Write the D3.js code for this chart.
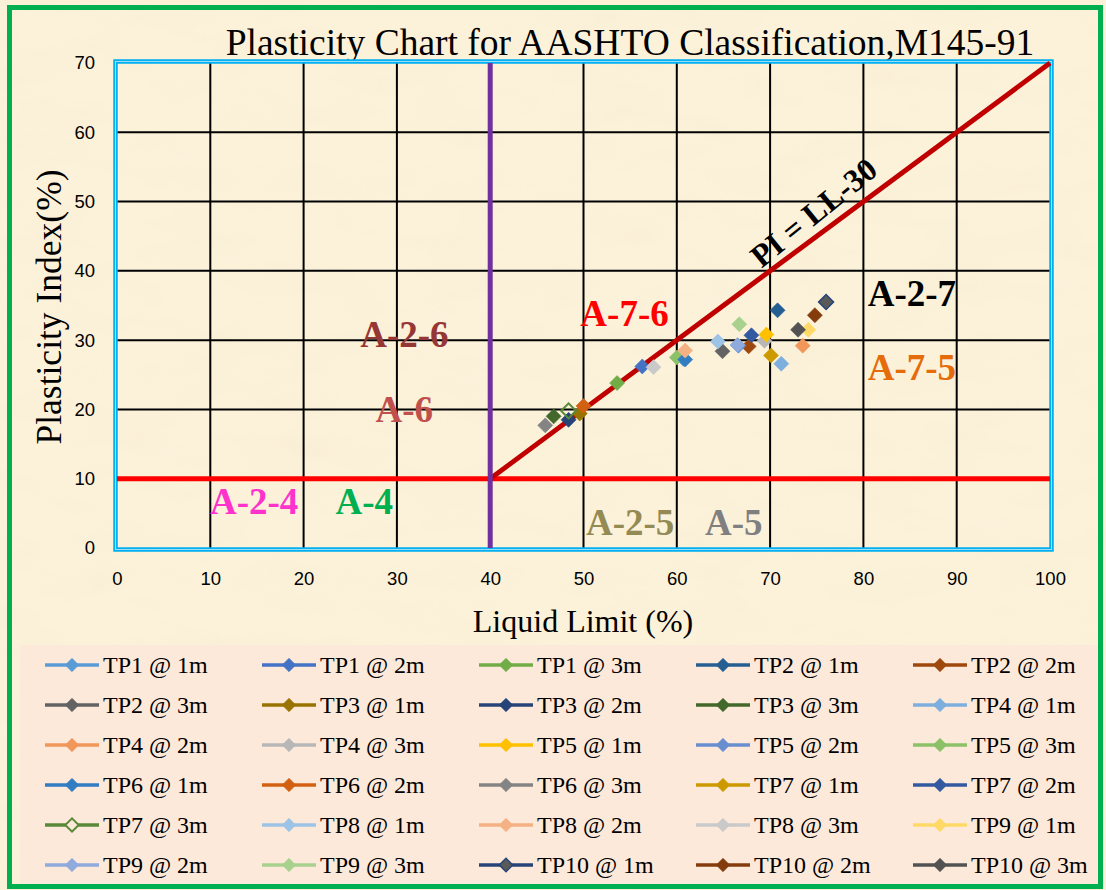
<!DOCTYPE html>
<html>
<head>
<meta charset="utf-8">
<script src="https://cdn.jsdelivr.net/npm/d3@7"></script>
<style>
  html, body { margin: 0; padding: 0; background: #fbf1d9; }
  svg { display: block; }
</style>
</head>
<body>
<svg id="chart" width="1106" height="890"></svg>
<script>
// ---- Data ----------------------------------------------------------------
const seriesNames = [
  "TP1 @ 1m", "TP1 @ 2m", "TP1 @ 3m", "TP2 @ 1m", "TP2 @ 2m",
  "TP2 @ 3m", "TP3 @ 1m", "TP3 @ 2m", "TP3 @ 3m", "TP4 @ 1m",
  "TP4 @ 2m", "TP4 @ 3m", "TP5 @ 1m", "TP5 @ 2m", "TP5 @ 3m",
  "TP6 @ 1m", "TP6 @ 2m", "TP6 @ 3m", "TP7 @ 1m", "TP7 @ 2m",
  "TP7 @ 3m", "TP8 @ 1m", "TP8 @ 2m", "TP8 @ 3m", "TP9 @ 1m",
  "TP9 @ 2m", "TP9 @ 3m", "TP10 @ 1m", "TP10 @ 2m", "TP10 @ 3m"
];
// Liquid limit (%) per sample
const liquidLimit = [
  60.7, 56.3, 53.6, 70.8, 67.7,
  64.9, 49.6, 48.4, 46.8, 71.2,
  73.5, 69.4, 69.6, 66.6, 60.0,
  60.9, 50.0, 45.9, 70.1, 68.0,
  48.4, 64.4, 60.9, 57.5, 74.1,
  66.5, 66.7, 76.0, 74.8, 73.0
];
// Plasticity index (%) per sample
const plasticityIndex = [
  27.3, 26.2, 23.8, 34.3, 29.1,
  28.4, 19.4, 18.5, 19.0, 26.6,
  29.2, 29.9, 30.8, 29.2, 27.5,
  27.2, 20.5, 17.7, 27.8, 30.7,
  19.8, 29.8, 28.5, 26.1, 31.5,
  29.3, 32.3, 35.5, 33.6, 31.5
];
const seriesColors = [
  "#5b9bd5", "#4472c4", "#70ad47", "#255e91", "#9e480e",
  "#636363", "#997300", "#264478", "#43682b", "#7cafdd",
  "#f1975a", "#b7b7b7", "#ffc000", "#698ed0", "#8cc168",
  "#327dc2", "#d26012", "#848484", "#cc9a00", "#335aa1",
  "#5a8a39", "#9dc3e6", "#f4b183", "#c9c9c9", "#ffd966",
  "#8faadc", "#a9d18e", "#264478", "#843c0c", "#525252"
];
// marker fill differs from the line colour for a few series
const markerFills = seriesColors.map((c, i) =>
  i === 20 ? "none" : i === 27 ? "#595959" : c);

const xTicks = [0, 10, 20, 30, 40, 50, 60, 70, 80, 90, 100];
const yTicks = [0, 10, 20, 30, 40, 50, 60, 70];

// AASHTO zone labels: [text, LL, PI, colour]
const zoneLabels = [
  ["A-2-6", 30.8, 29.0, "#953735"],
  ["A-6", 30.8, 18.2, "#c0504d"],
  ["A-7-6", 54.4, 32.1, "#ff0000"],
  ["A-2-4", 14.7, 4.9, "#ff33cc"],
  ["A-4", 26.5, 4.9, "#00b050"],
  ["A-2-5", 55.0, 1.9, "#948a54"],
  ["A-5", 66.1, 1.9, "#808080"],
  ["A-2-7", 85.2, 35.0, "#000000"],
  ["A-7-5", 85.2, 24.2, "#e46c0a"]
];

// ---- Layout --------------------------------------------------------------
const W = 1106, H = 890;
const svg = d3.select("#chart");
const x = d3.scaleLinear().domain([0, 100]).range([117, 1050]);
const y = d3.scaleLinear().domain([0, 70]).range([548, 63]);

// parchment background
const defs = svg.append("defs");
const f = defs.append("filter").attr("id", "parch")
  .attr("x", 0).attr("y", 0).attr("width", "100%").attr("height", "100%");
f.append("feTurbulence").attr("type", "fractalNoise")
  .attr("baseFrequency", "0.012 0.03").attr("numOctaves", 4).attr("seed", 7);
f.append("feColorMatrix").attr("type", "matrix")
  .attr("values", "0 0 0 0 0.86  0 0 0 0 0.76  0 0 0 0 0.56  0.7 0 0 0 -0.3");

svg.append("rect").attr("width", W).attr("height", H).attr("fill", "#fcf2da");
svg.append("rect").attr("width", W).attr("height", H).attr("fill", "#000")
  .attr("filter", "url(#parch)").attr("opacity", 0.55);

// outer frame
svg.append("rect").attr("x", 9.5).attr("y", 7.5)
  .attr("width", 1091).attr("height", 879)
  .attr("fill", "none").attr("stroke", "#00b050").attr("stroke-width", 5);

const serif = "'Liberation Serif', 'Times New Roman', serif";

// title
svg.append("text").attr("x", 630).attr("y", 55)
  .attr("text-anchor", "middle")
  .style("font-family", serif)
  .style("font-size", "37.5px").attr("fill", "#000")
  .text("Plasticity Chart for AASHTO Classification,M145-91");

// grid
const grid = svg.append("g");
grid.selectAll("line.v").data(xTicks.slice(1, -1)).join("line")
  .attr("x1", d => x(d)).attr("x2", d => x(d))
  .attr("y1", y(70)).attr("y2", y(0))
  .attr("stroke", "#000").attr("stroke-width", 2);
grid.selectAll("line.h").data(yTicks.slice(1, -1)).join("line")
  .attr("x1", x(0)).attr("x2", x(100))
  .attr("y1", d => y(d)).attr("y2", d => y(d))
  .attr("stroke", "#000").attr("stroke-width", 2);

// plot-area border (double blue line)
svg.append("rect").attr("x", x(0) - 1.5).attr("y", y(70) - 1.5)
  .attr("width", x(100) - x(0) + 3).attr("height", y(0) - y(70) + 3)
  .attr("fill", "none").attr("stroke", "#00b0f0").attr("stroke-width", 4.5);
svg.append("rect").attr("x", x(0) - 1.5).attr("y", y(70) - 1.5)
  .attr("width", x(100) - x(0) + 3).attr("height", y(0) - y(70) + 3)
  .attr("fill", "none").attr("stroke", "#9fdcf5").attr("stroke-width", 1);

// axes
const tickFont = "'Liberation Sans', Arial, sans-serif";
const xAxis = svg.append("g").attr("transform", `translate(0,${y(0)})`)
  .call(d3.axisBottom(x).tickValues(xTicks).tickSize(0).tickPadding(24));
const yAxis = svg.append("g").attr("transform", `translate(${x(0)},0)`)
  .call(d3.axisLeft(y).tickValues(yTicks).tickSize(0).tickPadding(22));
[xAxis, yAxis].forEach(g => {
  g.select(".domain").remove();
  g.selectAll("text").attr("fill", "#000")
    .style("font-family", tickFont).style("font-size", "18.5px");
});

// axis titles
svg.append("text").attr("x", 583).attr("y", 632)
  .attr("text-anchor", "middle")
  .style("font-family", serif)
  .style("font-size", "32px").text("Liquid Limit (%)");
svg.append("text")
  .attr("transform", "translate(61,307) rotate(-90)")
  .attr("text-anchor", "middle")
  .style("font-family", serif)
  .style("font-size", "35.5px").text("Plasticity Index(%)");

// classification boundaries
svg.append("line").attr("x1", x(0)).attr("x2", x(100))
  .attr("y1", y(10)).attr("y2", y(10))
  .attr("stroke", "#ff0000").attr("stroke-width", 5);
svg.append("line").attr("x1", x(40)).attr("x2", x(100))
  .attr("y1", y(10)).attr("y2", y(70))
  .attr("stroke", "#c00000").attr("stroke-width", 5);
svg.append("line").attr("x1", x(40)).attr("x2", x(40))
  .attr("y1", y(70)).attr("y2", y(0))
  .attr("stroke", "#7030a0").attr("stroke-width", 5);

// zone labels
svg.append("g").selectAll("text").data(zoneLabels).join("text")
  .attr("x", d => x(d[1])).attr("y", d => y(d[2]))
  .attr("text-anchor", "middle")
  .attr("fill", d => d[3])
  .style("font-family", serif).style("font-weight", "bold")
  .style("font-size", "37px")
  .text(d => d[0]);

// A-line equation label, written along PI = LL-30
svg.append("text")
  .attr("transform", `translate(${x(75.4)},${y(47.2)}) rotate(-39)`)
  .attr("text-anchor", "middle")
  .style("font-family", serif).style("font-weight", "bold")
  .style("font-size", "32px").text("PI = LL-30");

// data markers
const diamond = d3.symbol().type(d3.symbolSquare).size(112);
const pts = seriesNames.map((n, i) => ({
  name: n, ll: liquidLimit[i], pi: plasticityIndex[i],
  color: seriesColors[i], fill: markerFills[i]
}));
svg.append("g").selectAll("path").data(pts).join("path")
  .attr("d", diamond)
  .attr("transform", d => `translate(${x(d.ll)},${y(d.pi)}) rotate(45)`)
  .attr("fill", d => d.fill === "none" ? "none" : d.fill)
  .attr("stroke", d => d.color)
  .attr("stroke-width", d => d.fill === "none" ? 2 : (d.fill !== d.color ? 1.5 : 0.6));

// legend
const leg = svg.append("g");
leg.append("rect").attr("x", 20).attr("y", 645)
  .attr("width", 1078).attr("height", 239).attr("fill", "#fde9da");
const items = leg.selectAll("g.item").data(pts).join("g")
  .attr("transform", (d, i) => `translate(${45 + 217 * (i % 5)},${665 + 40 * Math.floor(i / 5)})`);
items.append("line").attr("x1", 0).attr("x2", 54)
  .attr("stroke", d => d.color).attr("stroke-width", 3.5);
items.append("path")
  .attr("d", d3.symbol().type(d3.symbolSquare).size(90))
  .attr("transform", "translate(27,0) rotate(45)")
  .attr("fill", d => d.fill === "none" ? "#fde9da" : d.fill)
  .attr("stroke", d => d.color)
  .attr("stroke-width", d => d.fill === "none" ? 2 : (d.fill !== d.color ? 1.5 : 0.6));
items.append("text").attr("x", 58).attr("y", 8)
  .style("font-family", serif)
  .style("font-size", "24px").attr("fill", "#000")
  .text(d => d.name);
</script>
</body>
</html>
